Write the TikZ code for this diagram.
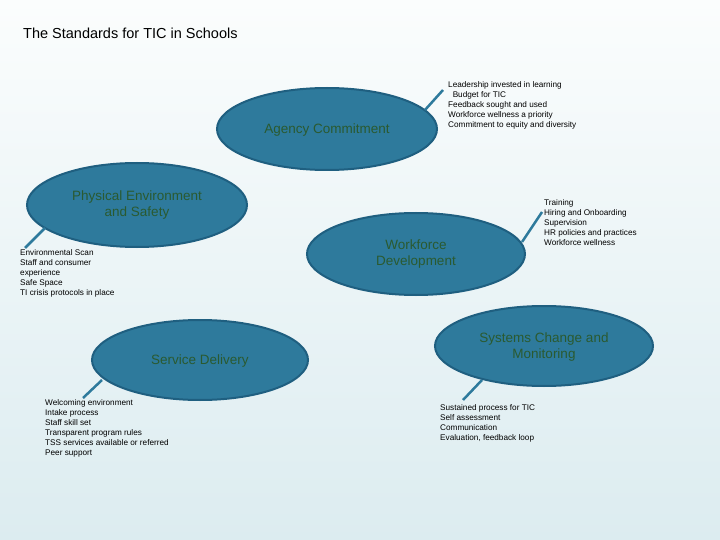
\documentclass[tikz,border=0pt]{standalone}
\usepackage{fontspec}
\setmainfont{Liberation Sans}
\definecolor{ellfill}{HTML}{2E7A9C}
\definecolor{elldraw}{HTML}{1F5F80}
\definecolor{elltext}{HTML}{2A5A30}
\definecolor{bgtop}{HTML}{FBFDFD}
\definecolor{bgbot}{HTML}{DCECF0}
\begin{document}
\begin{tikzpicture}[x=1pt,y=-1pt,
  eshape/.style={draw=elldraw,line width=2pt,fill=ellfill},
  etxt/.style={text=elltext,font=\fontsize{13.5}{16}\selectfont,align=center},
  lst/.style={anchor=north west,align=left,inner sep=0pt,font=\fontsize{8.2}{10}\selectfont},
  conn/.style={draw=ellfill,line width=2.5pt}]
\shade[top color=bgtop,bottom color=bgbot] (0,0) rectangle (720,540);
\useasboundingbox (0,0) rectangle (720,540);
\node[anchor=west,font=\fontsize{14.5}{16}\selectfont,inner sep=0pt] (title) at (23,33) {The Standards for TIC in Schools};
% ellipses
\draw[eshape] (327,129) ellipse (110 and 41);
\node[etxt] (ag) at (327,130) {Agency Commitment};
\draw[eshape] (137,205) ellipse (110 and 42);
\node[etxt] (ph) at (137,205) {Physical Environment\\and Safety};
\draw[eshape] (416,254) ellipse (109 and 41);
\node[etxt] (wf) at (416,254) {Workforce\\Development};
\draw[eshape] (544,346) ellipse (109 and 40);
\node[etxt] (sy) at (544,347) {Systems Change and\\Monitoring};
\draw[eshape] (200,360) ellipse (108 and 40);
\node[etxt] (sd) at (200,361) {Service Delivery};
% connectors
\coordinate (a1) at (425,110); \coordinate (a2) at (443,90);
\coordinate (p1) at (45,228); \coordinate (p2) at (25,248);
\coordinate (w1) at (522,242); \coordinate (w2) at (542,212);
\coordinate (s1) at (482,380); \coordinate (s2) at (463,400);
\coordinate (d1) at (102,380); \coordinate (d2) at (83,398);
\draw[conn] (a1) -- (a2);
\draw[conn] (p1) -- (p2);
\draw[conn] (w1) -- (w2);
\draw[conn] (s1) -- (s2);
\draw[conn] (d1) -- (d2);
% lists
\node[lst] (la) at (448,81) {Leadership invested in learning\\\ \ Budget for TIC\\Feedback sought and used\\Workforce wellness a priority\\Commitment to equity and diversity};
\node[lst] (lp) at (20,249) {Environmental Scan\\Staff and consumer\\experience\\Safe Space\\TI crisis protocols in place};
\node[lst] (lw) at (544,199) {Training\\Hiring and Onboarding\\Supervision\\HR policies and practices\\Workforce wellness};
\node[lst] (ls) at (440,404) {Sustained process for TIC\\Self assessment\\Communication\\Evaluation, feedback loop};
\node[lst] (ld) at (45,399) {Welcoming environment\\Intake process\\Staff skill set\\Transparent program rules\\TSS services available or referred\\Peer support};
\end{tikzpicture}
\end{document}
